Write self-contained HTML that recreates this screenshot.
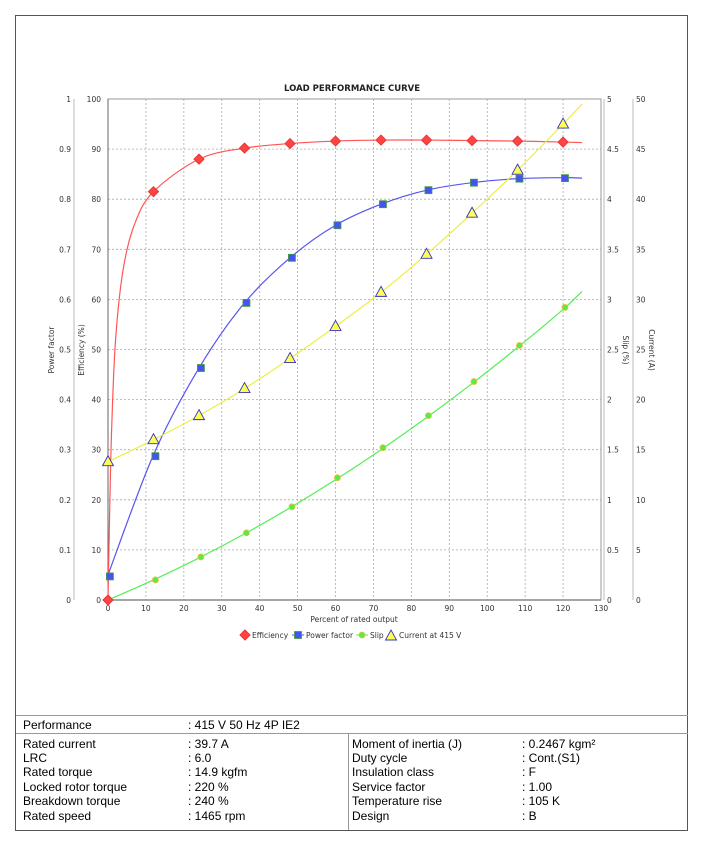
<!DOCTYPE html>
<html><head><meta charset="utf-8"><style>
body{margin:0;background:#fff;width:704px;height:846px;overflow:hidden;font-family:"Liberation Sans",sans-serif}
#frame{position:absolute;left:15px;top:15px;width:673px;height:816px;border:1px solid #555;box-sizing:border-box}
.t{position:absolute;font-size:12px;color:#000;white-space:nowrap}
.hl{position:absolute;height:1px;background:#999}
</style></head><body>
<div id="frame"></div>
<svg id="chart" width="704" height="700" style="position:absolute;left:0;top:0" font-family="DejaVu Sans, sans-serif"></svg>
<div class="hl" style="left:16px;top:715px;width:672px"></div>
<div class="hl" style="left:16px;top:733px;width:672px"></div>
<div style="position:absolute;left:348px;top:734px;width:1px;height:96px;background:#999"></div>
<div>
<div class="t" style="left:23px;top:718px">Performance</div><div class="t" style="left:188px;top:718px">: 415 V 50 Hz 4P IE2</div>
<div class="t" style="left:23px;top:737px">Rated current</div><div class="t" style="left:188px;top:737px">: 39.7 A</div>
<div class="t" style="left:23px;top:751px">LRC</div><div class="t" style="left:188px;top:751px">: 6.0</div>
<div class="t" style="left:23px;top:765px">Rated torque</div><div class="t" style="left:188px;top:765px">: 14.9 kgfm</div>
<div class="t" style="left:23px;top:780px">Locked rotor torque</div><div class="t" style="left:188px;top:780px">: 220 %</div>
<div class="t" style="left:23px;top:794px">Breakdown torque</div><div class="t" style="left:188px;top:794px">: 240 %</div>
<div class="t" style="left:23px;top:809px">Rated speed</div><div class="t" style="left:188px;top:809px">: 1465 rpm</div>
<div class="t" style="left:352px;top:737px">Moment of inertia (J)</div><div class="t" style="left:522px;top:737px">: 0.2467 kgm²</div>
<div class="t" style="left:352px;top:751px">Duty cycle</div><div class="t" style="left:522px;top:751px">: Cont.(S1)</div>
<div class="t" style="left:352px;top:765px">Insulation class</div><div class="t" style="left:522px;top:765px">: F</div>
<div class="t" style="left:352px;top:780px">Service factor</div><div class="t" style="left:522px;top:780px">: 1.00</div>
<div class="t" style="left:352px;top:794px">Temperature rise</div><div class="t" style="left:522px;top:794px">: 105 K</div>
<div class="t" style="left:352px;top:809px">Design</div><div class="t" style="left:522px;top:809px">: B</div>
</div>
<script>
const xPts=[0,12,24,36,48,60,72,84,96,108,120];
const effVals=[0,81.5,88,90.2,91.1,91.6,91.8,91.8,91.7,91.6,91.4];
const pfX=[0.5,12.5,24.5,36.5,48.5,60.5,72.5,84.5,96.5,108.5,120.5];
const pfVals=[0.047,0.287,0.463,0.593,0.683,0.748,0.79,0.818,0.833,0.841,0.842];
const slipX=[0,12.5,24.5,36.5,48.5,60.5,72.5,84.5,96.5,108.5,120.5];
const slipVals=[0,0.2,0.43,0.67,0.93,1.22,1.52,1.84,2.18,2.54,2.92];
const curVals=[13.8,16,18.4,21.1,24.1,27.3,30.7,34.5,38.6,42.9,47.5];
const effFitX=[0,0.5,1,2,4,7,12,24,36,48,60,72,84,96,108,120,125];
const effFitV=[0,20,35,52,66,75,81.5,88,90.2,91.1,91.6,91.8,91.8,91.7,91.6,91.4,91.3];
const pfFitX=[0,12,24,36,48,60,72,84,96,108,120,125];
const pfFitV=[0.05,0.29,0.463,0.593,0.683,0.748,0.79,0.818,0.833,0.841,0.843,0.842];
const slipFitX=[0,12,24,36,48,60,72,84,96,108,120,125];
const slipFitV=[0,0.2,0.42,0.66,0.92,1.2,1.5,1.82,2.16,2.52,2.9,3.08];
const curFitX=[0,12,24,36,48,60,72,84,96,108,120,125];
const curFitV=[13.8,16,18.4,21.1,24.1,27.3,30.7,34.5,38.6,42.9,47.5,49.5];
const xTicks=[0,10,20,30,40,50,60,70,80,90,100,110,120,130];
const effTicks=[0,10,20,30,40,50,60,70,80,90,100];
const pfTicks=["0","0.1","0.2","0.3","0.4","0.5","0.6","0.7","0.8","0.9","1"];
const slipTicks=["0","0.5","1","1.5","2","2.5","3","3.5","4","4.5","5"];
const curTicks=["0","5","10","15","20","25","30","35","40","45","50"];

const X0=108,X1=601,Y0=600,Y1=99;
const sx=v=>X0+(X1-X0)*v/130;
const sE=v=>Y0-(Y0-Y1)*v/100;
const sPF=v=>sE(v*100), sS=v=>sE(v*20), sC=v=>sE(v*2);
const svg=document.getElementById('chart');
const NS='http://www.w3.org/2000/svg';
function mk(tag,attrs,parent){const e=document.createElementNS(NS,tag);for(const k in attrs)e.setAttribute(k,attrs[k]);(parent||svg).appendChild(e);return e;}
function txt(x,y,s,attrs){const e=mk('text',Object.assign({x:x,y:y,'font-size':7.5,fill:'#333'},attrs||{}));e.textContent=s;return e;}

let t=txt(352,91,'LOAD PERFORMANCE CURVE',{'text-anchor':'middle','font-size':8.5,'font-weight':'bold',fill:'#222'});

// grid
xTicks.forEach(v=>{if(v>0&&v<130){const l=mk('line',{x1:sx(v),x2:sx(v),y1:Y1,y2:Y0,stroke:'#aaa','stroke-dasharray':'2,2','stroke-width':0.8});}
 const tl=txt(sx(v),611,String(v),{'text-anchor':'middle'});});
effTicks.forEach((v,i)=>{const y=sE(v);
 if(v>0&&v<100){const l=mk('line',{x1:X0,x2:X1,y1:y,y2:y,stroke:'#aaa','stroke-dasharray':'2,2','stroke-width':0.8});}
 let a=txt(101,y+3,String(v),{'text-anchor':'end'});
 a=txt(71,y+3,pfTicks[i],{'text-anchor':'end'});
 a=txt(607,y+3,slipTicks[i]);
 a=txt(636,y+3,curTicks[i]);});
mk('rect',{x:X0,y:Y1,width:X1-X0,height:Y0-Y1,fill:'none',stroke:'#999','stroke-width':1});
mk('line',{x1:X0,x2:X0,y1:Y1,y2:Y0,stroke:'#666','stroke-width':1});
mk('line',{x1:X0,x2:X1,y1:Y0,y2:Y0,stroke:'#888','stroke-width':1.5});
mk('line',{x1:74,x2:74,y1:Y1,y2:Y0,stroke:'#bbb'});
mk('line',{x1:604,x2:604,y1:Y1,y2:Y0,stroke:'#bbb'});
mk('line',{x1:633,x2:633,y1:Y1,y2:Y0,stroke:'#bbb'});
t=txt(54,350,'Power factor',{'text-anchor':'middle',transform:'rotate(-90 54 350)'});
t=txt(84,350,'Efficiency (%)',{'text-anchor':'middle',transform:'rotate(-90 84 350)'});
t=txt(623,350,'Slip (%)',{'text-anchor':'middle',transform:'rotate(90 623 350)'});
t=txt(649,350,'Current (A)',{'text-anchor':'middle',transform:'rotate(90 649 350)'});
t=txt(354,622,'Percent of rated output',{'text-anchor':'middle'});

function smooth(xs,vs,fy){const p=xs.map((x,i)=>[sx(x),fy(vs[i])]);let d='M'+p[0][0]+','+p[0][1];
 for(let i=0;i<p.length-1;i++){const a=p[Math.max(i-1,0)],b=p[i],c=p[i+1],e=p[Math.min(i+2,p.length-1)];
 d+=' C'+(b[0]+(c[0]-a[0])/6)+','+(b[1]+(c[1]-a[1])/6)+' '+(c[0]-(e[0]-b[0])/6)+','+(c[1]-(e[1]-b[1])/6)+' '+c[0]+','+c[1];}return d;}
let c;
c=mk('path',{d:smooth(effFitX,effFitV,sE),fill:'none',stroke:'#ff5555','stroke-width':1.2});
c=mk('path',{d:smooth(pfFitX,pfFitV,sPF),fill:'none',stroke:'#5555ee','stroke-width':1.2});
c=mk('path',{d:smooth(slipFitX,slipFitV,sS),fill:'none',stroke:'#55ee55','stroke-width':1.2});
c=mk('path',{d:smooth(curFitX,curFitV,sC),fill:'none',stroke:'#eeee44','stroke-width':1.2});

function diamond(x,y,p){return mk('polygon',{points:`${x},${y-5} ${x+5},${y} ${x},${y+5} ${x-5},${y}`,fill:'#ff4444',stroke:'#ee3333'},p);}
function square(x,y,p){return mk('rect',{x:x-3.5,y:y-3.5,width:7,height:7,fill:'#4455ee',stroke:'#449944','stroke-width':0.8},p);}
function dot(x,y,p){return mk('circle',{cx:x,cy:y,r:3,fill:'#55ee44',stroke:'#eebb44','stroke-width':0.8},p);}
function tri(x,y,p){return mk('polygon',{points:`${x},${y-6} ${x+5.5},${y+4} ${x-5.5},${y+4}`,fill:'#ffff55',stroke:'#3333bb','stroke-width':0.9},p);}
slipX.forEach((x,i)=>{const m=dot(sx(x),sS(slipVals[i]));});
xPts.forEach((x,i)=>{const m=tri(sx(x),sC(curVals[i]));});
pfX.forEach((x,i)=>{const m=square(sx(x),sPF(pfVals[i]));});
xPts.forEach((x,i)=>{const m=diamond(sx(x),sE(effVals[i]));});

// legend
const lg=mk('g',{});
let e;
e=mk('g',{},lg);diamond(245,635,e);txt(252,638,'Efficiency',{}).remove();e.appendChild(txt(252,638,'Efficiency'));
e=mk('g',{},lg);mk('line',{x1:292,x2:304,y1:635,y2:635,stroke:'#5555ee'},e);square(298,635,e);e.appendChild(txt(306,638,'Power factor'));
e=mk('g',{},lg);mk('line',{x1:356,x2:368,y1:635,y2:635,stroke:'#55ee55'},e);dot(362,635,e);e.appendChild(txt(370,638,'Slip'));
e=mk('g',{},lg);tri(391,636,e);e.appendChild(txt(399,638,'Current at 415 V'));
</script>
</body></html>
